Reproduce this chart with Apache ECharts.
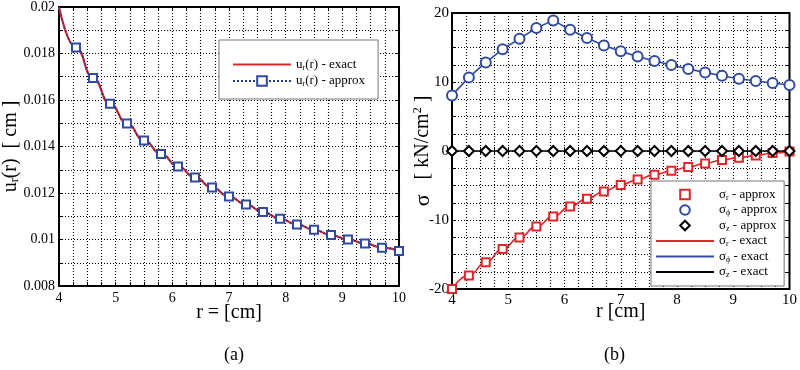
<!DOCTYPE html>
<html>
<head>
<meta charset="utf-8">
<script src="https://cdn.jsdelivr.net/npm/echarts@6/dist/echarts.min.js"></script>
<style>
html,body{margin:0;padding:0;background:#fff;}
#c{width:800px;height:370px;}
</style>
</head>
<body>
<div id="c"></div>
<script>
// ---- data ----
const rExact = [4, 4.3, 4.6, 4.9, 5.2, 5.5, 5.8, 6.1, 6.4, 6.7, 7.0, 7.3, 7.6, 7.9, 8.2, 8.5, 8.8, 9.1, 9.4, 9.7, 10];
const urExact = [0.0200, 0.01826, 0.01695, 0.01584, 0.01499, 0.01426, 0.01368, 0.01314, 0.01267, 0.01224, 0.01185, 0.01151, 0.01118, 0.01089, 0.01065, 0.01042, 0.01019, 0.01000, 0.00983, 0.00965, 0.00951];
// first approx point (r = 4) has its marker hidden at the frame corner
const rApproxA = [4, 4.3, 4.6, 4.9, 5.2, 5.5, 5.8, 6.1, 6.4, 6.7, 7.0, 7.3, 7.6, 7.9, 8.2, 8.5, 8.8, 9.1, 9.4, 9.7, 10];
const urApprox = [0.0200, 0.01826, 0.01695, 0.01584, 0.01499, 0.01426, 0.01368, 0.01314, 0.01267, 0.01224, 0.01185, 0.01151, 0.01118, 0.01089, 0.01065, 0.01042, 0.01019, 0.01000, 0.00983, 0.00965, 0.00951];

const rB = [4, 4.3, 4.6, 4.9, 5.2, 5.5, 5.8, 6.1, 6.4, 6.7, 7.0, 7.3, 7.6, 7.9, 8.2, 8.5, 8.8, 9.1, 9.4, 9.7, 10];
const sigmaR = [-20.0, -18.03, -16.14, -14.2, -12.52, -10.93, -9.48, -8.03, -6.91, -5.86, -4.93, -4.12, -3.43, -2.86, -2.32, -1.8, -1.3, -0.97, -0.64, -0.3, -0.06];
const sigmaPhi = [8.06, 10.67, 12.84, 14.73, 16.28, 17.83, 18.93, 17.58, 16.38, 15.3, 14.44, 13.71, 13.04, 12.46, 11.88, 11.39, 10.91, 10.48, 10.14, 9.86, 9.57];
const sigmaZ = [0, 0, 0, 0, 0, 0, 0, 0, 0, 0, 0, 0, 0, 0, 0, 0, 0, 0, 0, 0, 0];

const xTicksA = [4, 5, 6, 7, 8, 9, 10];
const yTicksA = [0.008, 0.01, 0.012, 0.014, 0.016, 0.018, 0.02];
const yTicksB = [-20, -10, 0, 10, 20];
const panelLabels = ['(a)', '(b)'];

// ---- styles ----
const FONT = '"Liberation Serif", "DejaVu Serif", serif';
const RED = '#e0262b';
const BLUE = '#2f4aa0';
const BLUE_DARK = '#233a8c';
const BLACK = '#000';
const LINE_ICON = 'path://M0,0L58,0L58,2L0,2Z';

const zip = (xs, ys) => xs.map((x, i) => [x, ys[i]]);
const isTick = (v, list) => list.some(t => Math.abs(t - v) < 1e-9);

const gridLine = {show: true, lineStyle: {color: '#000', width: 1.1, type: [1, 2]}};

function mainX(gi, min, max, name, labelSize, margin, nameGap) {
  return {
    type: 'value', gridIndex: gi, min: min, max: max, interval: 0.25,
    name: name, nameLocation: 'middle', nameGap: nameGap, nameMoveOverlap: false,
    nameTextStyle: {fontFamily: FONT, fontSize: 20, color: BLACK},
    axisLine: {show: false},
    axisTick: {show: true, inside: true, length: 4, lineStyle: {color: BLACK, width: 1}},
    axisLabel: {show: true, interval: 0, margin: margin, fontFamily: FONT, fontSize: labelSize, color: BLACK,
      showMinLabel: true, showMaxLabel: true,
      formatter: v => isTick(v, xTicksA) ? String(Math.round(v)) : ''},
    splitLine: gridLine
  };
}
function topX(gi, min, max) {
  return {
    type: 'value', gridIndex: gi, min: min, max: max, interval: 0.25, position: 'top',
    axisLine: {show: false},
    axisTick: {show: true, inside: true, length: 4, lineStyle: {color: BLACK, width: 1}},
    axisLabel: {show: false}, splitLine: {show: false}
  };
}
function rightY(gi, min, max, interval) {
  return {
    type: 'value', gridIndex: gi, min: min, max: max, interval: interval, position: 'right',
    axisLine: {show: false},
    axisTick: {show: true, inside: true, length: 4, lineStyle: {color: BLACK, width: 1}},
    axisLabel: {show: false}, splitLine: {show: false}
  };
}

const legendText = {
  fontFamily: FONT, fontSize: 13, color: BLACK,
  rich: {
    m: {fontFamily: FONT, fontSize: 13, color: BLACK},
    s: {fontFamily: FONT, fontSize: 8, color: BLACK, verticalAlign: 'bottom', padding: [6, 0, 0, 0]}
  }
};
const legendNames = {
  ur_exact: '{m|u}{s|r}{m|(r) - exact}',
  ur_approx: '{m|u}{s|r}{m|(r) - approx}',
  sr_a: '{m|σ}{s|r}{m| - approx}',
  sp_a: '{m|σ}{s|ϕ}{m| - approx}',
  sz_a: '{m|σ}{s|z}{m| - approx}',
  sr_e: '{m|σ}{s|r}{m| - exact}',
  sp_e: '{m|σ}{s|ϕ}{m| - exact}',
  sz_e: '{m|σ}{s|z}{m| - exact}'
};

const approxDataA = rApproxA.map((x, i) => i === 0 ? {value: [x, urApprox[i]], symbol: 'none'} : [x, urApprox[i]]);

const chart = echarts.init(document.getElementById('c'), null, {renderer: 'canvas'});
const option = {
  backgroundColor: '#fff',
  animation: false,
  grid: [
    {left: 59, top: 7, width: 340, height: 279, show: true, borderColor: BLACK, borderWidth: 2, backgroundColor: 'transparent'},
    {left: 452, top: 13, width: 341, height: 276, show: true, borderColor: BLACK, borderWidth: 2, backgroundColor: 'transparent'}
  ],
  xAxis: [
    mainX(0, 4, 10, 'r = [cm]', 14, 5, 17),
    mainX(1, 4, 10, 'r [cm]', 15, 4, 13),
    topX(0, 4, 10),
    topX(1, 4, 10)
  ],
  yAxis: [
    {
      type: 'value', gridIndex: 0, min: 0.008, max: 0.02, interval: 0.001,
      name: '{m|u}{s|r}{m|(r)  [ cm ]}', nameLocation: 'middle', nameGap: 38, nameMoveOverlap: false,
      nameTextStyle: {fontFamily: FONT, fontSize: 20, color: BLACK,
        rich: {m: {fontFamily: FONT, fontSize: 20, color: BLACK}, s: {fontFamily: FONT, fontSize: 12, color: BLACK, verticalAlign: 'bottom', padding: [8, 0, 0, 0]}}},
      axisLine: {show: false},
      axisTick: {show: true, inside: true, length: 4, lineStyle: {color: BLACK, width: 1}},
      axisLabel: {show: true, interval: 0, margin: 4, fontFamily: FONT, fontSize: 14, color: BLACK,
        formatter: v => isTick(v, yTicksA) ? String(parseFloat(v.toFixed(3))) : ''},
      splitLine: gridLine
    },
    {
      type: 'value', gridIndex: 1, min: -20, max: 20, interval: 2.5,
      name: '{g|σ}{m|   [ kN/cm}{p|2}{m| ]}', nameLocation: 'middle', nameGap: 18, nameMoveOverlap: false,
      nameTextStyle: {fontFamily: FONT, fontSize: 20, color: BLACK,
        rich: {g: {fontFamily: FONT, fontSize: 22, color: BLACK}, m: {fontFamily: FONT, fontSize: 20, color: BLACK}, p: {fontFamily: FONT, fontSize: 12, color: BLACK, verticalAlign: 'top', padding: [0, 0, 8, 0]}}},
      axisLine: {show: false},
      axisTick: {show: true, inside: true, length: 4, lineStyle: {color: BLACK, width: 1}},
      axisLabel: {show: true, interval: 0, margin: 3, fontFamily: FONT, fontSize: 15, color: BLACK,
        formatter: v => isTick(v, yTicksB) ? String(Math.round(v)) : ''},
      splitLine: gridLine
    },
    rightY(0, 0.008, 0.02, 0.001),
    rightY(1, -20, 20, 2.5)
  ],
  legend: [
    {
      data: [{name: 'ur_exact', icon: LINE_ICON}, 'ur_approx'],
      orient: 'vertical', left: 219, top: 40,
      padding: [18, 13, 11, 13], itemGap: 3, itemWidth: 58, itemHeight: 12,
      backgroundColor: '#fff', borderColor: '#777', borderWidth: 1, borderRadius: 0,
      textStyle: legendText, formatter: n => legendNames[n], selectedMode: false
    },
    {
      data: ['sr_a', 'sp_a', 'sz_a', {name: 'sr_e', icon: LINE_ICON}, {name: 'sp_e', icon: LINE_ICON}, {name: 'sz_e', icon: LINE_ICON}],
      orient: 'vertical', left: 651, top: 181,
      padding: [7, 7, 7, 5], itemGap: 2, itemWidth: 58, itemHeight: 12,
      backgroundColor: '#fff', borderColor: '#777', borderWidth: 1, borderRadius: 0,
      textStyle: legendText, formatter: n => legendNames[n], selectedMode: false
    }
  ],
  graphic: [
    {type: 'text', left: 224, top: 346, style: {text: panelLabels[0], font: '18px ' + FONT, fill: BLACK}},
    {type: 'text', left: 604, top: 346, style: {text: panelLabels[1], font: '18px ' + FONT, fill: BLACK}}
  ],
  series: [
    // panel (a)
    {name: 'ur_exact', type: 'line', xAxisIndex: 0, yAxisIndex: 0, data: zip(rExact, urExact),
      smooth: true, smoothMonotone: 'x', symbol: 'none', lineStyle: {color: RED, width: 2.2}, itemStyle: {color: RED}, z: 3},
    {name: 'ur_approx', type: 'line', xAxisIndex: 0, yAxisIndex: 0, data: approxDataA,
      smooth: true, smoothMonotone: 'x', symbol: 'emptyRect', symbolSize: 8, showSymbol: true,
      lineStyle: {color: BLUE_DARK, width: 1.5, type: [2, 2]},
      itemStyle: {color: BLUE, borderWidth: 1.3}, z: 4},
    // panel (b) exact lines
    {name: 'sr_e', type: 'line', xAxisIndex: 1, yAxisIndex: 1, data: zip(rB, sigmaR),
      smooth: true, smoothMonotone: 'x', symbol: 'none', lineStyle: {color: RED, width: 1.6}, itemStyle: {color: RED}, z: 3},
    {name: 'sp_e', type: 'line', xAxisIndex: 1, yAxisIndex: 1, data: zip(rB, sigmaPhi),
      smooth: false, symbol: 'none', lineStyle: {color: BLUE, width: 1.6}, itemStyle: {color: BLUE}, z: 3},
    {name: 'sz_e', type: 'line', xAxisIndex: 1, yAxisIndex: 1, data: zip(rB, sigmaZ),
      symbol: 'none', lineStyle: {color: BLACK, width: 1.6}, itemStyle: {color: BLACK}, z: 3},
    // panel (b) approx markers
    {name: 'sr_a', type: 'line', xAxisIndex: 1, yAxisIndex: 1, data: zip(rB, sigmaR),
      symbol: 'emptyRect', symbolSize: 8, showSymbol: true,
      lineStyle: {width: 0, opacity: 0}, itemStyle: {color: RED, borderWidth: 1.3}, z: 4},
    {name: 'sp_a', type: 'line', xAxisIndex: 1, yAxisIndex: 1, data: zip(rB, sigmaPhi),
      symbol: 'emptyCircle', symbolSize: 10, showSymbol: true,
      lineStyle: {width: 0, opacity: 0}, itemStyle: {color: BLUE, borderWidth: 1.3}, z: 4},
    {name: 'sz_a', type: 'line', xAxisIndex: 1, yAxisIndex: 1, data: zip(rB, sigmaZ),
      symbol: 'emptyDiamond', symbolSize: 10, showSymbol: true,
      lineStyle: {width: 0, opacity: 0}, itemStyle: {color: BLACK, borderWidth: 1.3}, z: 4}
  ]
};
chart.setOption(option);
</script>
</body>
</html>
